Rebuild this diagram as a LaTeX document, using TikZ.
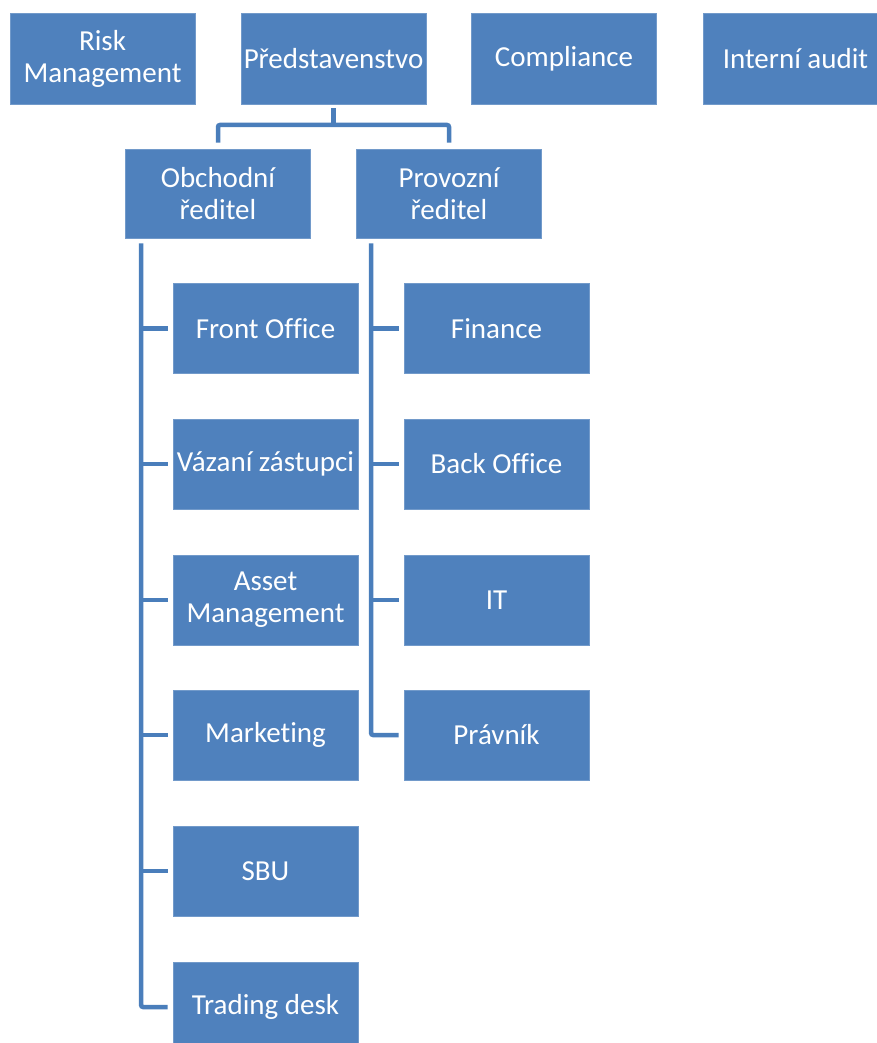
\documentclass[tikz,border=0pt]{standalone}
\usepackage{fontspec}
\setmainfont[Ligatures=NoCommon]{Carlito}
\definecolor{boxblue}{HTML}{4F81BD}
\definecolor{lineblue}{HTML}{4A7EBB}
\tikzset{
  orgbox/.style={rectangle, fill=boxblue, draw=boxblue!80!white, line width=0.8pt,
    minimum width=185pt, minimum height=90pt, inner sep=0pt, text=white,
    align=center, font=\fontsize{29}{32}\selectfont},
  conn/.style={draw=lineblue, line width=4.5pt, rounded corners=2pt}
}
\begin{document}
\begin{tikzpicture}[x=1pt,y=-1pt]
\useasboundingbox (0,0) rectangle (877,1043);
\clip (0,0) rectangle (877,1043);
% top row
\node[orgbox, minimum height=91pt] (rm) at (102.5,58.5) {Risk\\Management};
\node[orgbox, minimum height=91pt] (ps) at (333.5,58.5) {Představenstvo};
\node[orgbox, minimum height=91pt] (co) at (564,58.5) {Compliance};
\node[orgbox, minimum height=91pt] (ia) at (795.5,58.5) {Interní audit};
% second row
\node[orgbox, minimum height=89pt] (ob) at (218,193.5) {Obchodní\\ředitel};
\node[orgbox, minimum height=89pt] (pr) at (449,193.5) {Provozní\\ředitel};
% left column
\node[orgbox] (fo) at (265.5,328.5) {Front Office};
\node[orgbox] (vz) at (265.5,464) {Vázaní zástupci};
\node[orgbox] (am) at (265.5,600) {Asset\\Management};
\node[orgbox] (mk) at (265.5,735) {Marketing};
\node[orgbox] (sb) at (265.5,871) {SBU};
\node[orgbox] (td) at (265.5,1007) {Trading desk};
% right column
\node[orgbox] (fi) at (496.5,328.5) {Finance};
\node[orgbox] (bo) at (496.5,464) {Back Office};
\node[orgbox] (it) at (496.5,600) {IT};
\node[orgbox] (pv) at (496.5,735) {Právník};
% top connectors
\coordinate (bar) at (333.5,125);
\draw[conn] ([yshift=-4pt]ps.south) -- (bar);
\draw[conn] ([yshift=6pt]ob.north) |- (bar) -| ([yshift=6pt]pr.north);
% left trunk
\coordinate (lt) at ([xshift=16pt,yshift=-5pt]ob.south west);
\draw[conn] (lt) |- ([xshift=-5pt]td.west);
\foreach \n in {fo,vz,am,mk,sb}
  \draw[conn] (lt |- \n.west) -- ([xshift=-5pt]\n.west);
% right trunk
\coordinate (rt) at ([xshift=15pt,yshift=-5pt]pr.south west);
\draw[conn] (rt) |- ([xshift=-5pt]pv.west);
\foreach \n in {fi,bo,it}
  \draw[conn] (rt |- \n.west) -- ([xshift=-5pt]\n.west);
\end{tikzpicture}
\end{document}
